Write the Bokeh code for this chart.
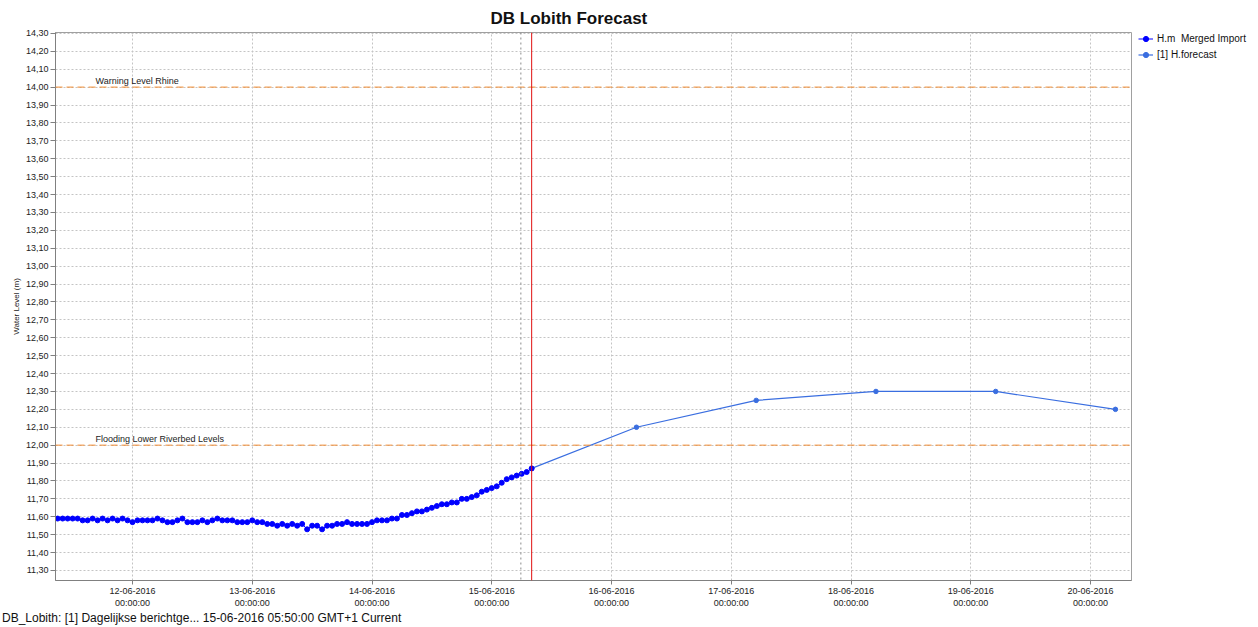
from datetime import datetime, timedelta
from bokeh.plotting import figure
from bokeh.layouts import column, row
from bokeh.models import (ColumnDataSource, Span, Label, Legend, LegendItem, FixedTicker, Div,
                          DaysTicker, DatetimeTickFormatter, CustomJSTickFormatter, Range1d)
from bokeh.embed import file_html
from bokeh.resources import INLINE

# ---------------- data ----------------
title_text = "DB Lobith Forecast"
status_text = "DB_Lobith: [1] Dagelijkse berichtge... 15-06-2016 05:50:00 GMT+1 Current"
series_obs_name = "H.m  Merged Import"
series_fc_name = "[1] H.forecast"
y_axis_title = "Water Level (m)"

obs_start = datetime(2016, 6, 11, 8, 0)
obs_levels = [
    # 11-06 08:00 .. 23:00
    11.60, 11.59, 11.59, 11.59, 11.59, 11.59, 11.58, 11.58, 11.59, 11.58, 11.59, 11.58,
    11.59, 11.58, 11.59, 11.58,
    # 12-06 00:00 .. 23:00
    11.57, 11.58, 11.58, 11.58, 11.58, 11.59, 11.58, 11.57, 11.57, 11.58, 11.59, 11.57,
    11.57, 11.57, 11.58, 11.57, 11.58, 11.59, 11.58, 11.58, 11.58, 11.57, 11.57, 11.57,
    # 13-06 00:00 .. 23:00
    11.58, 11.57, 11.57, 11.56, 11.56, 11.55, 11.56, 11.55, 11.56, 11.55, 11.56, 11.53,
    11.55, 11.55, 11.53, 11.55, 11.55, 11.56, 11.56, 11.57, 11.56, 11.56, 11.56, 11.56,
    # 14-06 00:00 .. 23:00
    11.57, 11.58, 11.58, 11.58, 11.59, 11.59, 11.61, 11.61, 11.62, 11.63, 11.63, 11.64,
    11.65, 11.66, 11.67, 11.67, 11.68, 11.68, 11.70, 11.70, 11.71, 11.72, 11.74, 11.75,
    # 15-06 00:00 .. 08:00
    11.76, 11.77, 11.79, 11.81, 11.82, 11.83, 11.84, 11.85, 11.87,
]
obs_times = [obs_start + timedelta(hours=i) for i in range(len(obs_levels))]

fc_times = [datetime(2016, 6, 15, 8, 0), datetime(2016, 6, 16, 5, 0), datetime(2016, 6, 17, 5, 0),
            datetime(2016, 6, 18, 5, 0), datetime(2016, 6, 19, 5, 0), datetime(2016, 6, 20, 5, 0)]
fc_levels = [11.87, 12.10, 12.25, 12.30, 12.30, 12.20]

thresholds = [14.00, 12.00]
threshold_names = ["Warning Level Rhine", "Flooding Lower Riverbed Levels"]

forecast_time = datetime(2016, 6, 15, 5, 50)
current_time = datetime(2016, 6, 15, 8, 0)

y_ticks = [11.3, 11.4, 11.5, 11.6, 11.7, 11.8, 11.9, 12.0, 12.1, 12.2, 12.3, 12.4, 12.5, 12.6,
           12.7, 12.8, 12.9, 13.0, 13.1, 13.2, 13.3, 13.4, 13.5, 13.6, 13.7, 13.8, 13.9, 14.0,
           14.1, 14.2, 14.3]

x_start = datetime(2016, 6, 11, 8, 34)
x_end = datetime(2016, 6, 20, 8, 13)
y_start, y_end = 11.244, 14.305

# ---------------- figure ----------------
FONT = "Liberation Sans"
W_MAIN, W_LEG, H = 1136, 120, 610
ML, MR, MT, MB = 55, 5, 32, 27

OBS_COLOR = "#0000ff"
FC_COLOR = "#3a6ee0"

p = figure(width=W_MAIN, height=H, x_axis_type="datetime", output_backend="svg",
           toolbar_location=None, tools="",
           x_range=Range1d(x_start, x_end), y_range=Range1d(y_start, y_end),
           min_border_left=ML, min_border_right=MR, min_border_top=MT, min_border_bottom=MB)
p.background_fill_color = "white"
p.border_fill_color = "white"
p.outline_line_color = "#a0a0a0"

p.title.text = title_text
p.title.text_font = FONT
p.title.text_font_size = "17px"
p.title.text_font_style = "bold"
p.title.text_color = "#111111"
p.title.align = "left"
p.title.offset = 435
p.title.standoff = 9

# axes
p.yaxis.ticker = FixedTicker(ticks=y_ticks)
p.yaxis.formatter = CustomJSTickFormatter(code="return tick.toFixed(2).replace('.', ',');")
p.xaxis.ticker = DaysTicker(days=list(range(1, 32)))
fmt = "%d-%m-%Y\n%H:%M:%S"
p.xaxis.formatter = DatetimeTickFormatter(milliseconds=fmt, seconds=fmt, minsec=fmt, minutes=fmt,
                                          hourmin=fmt, hours=fmt, days=fmt, months=fmt, years=fmt)
for ax in (p.xaxis[0], p.yaxis[0]):
    ax.axis_line_color = "#808080"
    ax.major_tick_line_color = "#808080"
    ax.minor_tick_line_color = None
    ax.major_tick_in = 0
    ax.major_tick_out = 5
    ax.major_label_text_font = FONT
    ax.major_label_text_font_size = "9px"
    ax.major_label_text_color = "#222222"
    ax.major_label_standoff = 2
p.xaxis.major_tick_out = 4
p.xaxis.major_label_standoff = 1
p.yaxis.axis_label = y_axis_title
p.yaxis.axis_label_text_font = FONT
p.yaxis.axis_label_text_font_size = "8px"
p.yaxis.axis_label_text_font_style = "normal"
p.yaxis.axis_label_text_color = "#222222"
p.yaxis.axis_label_standoff = 2

for g in (p.xgrid[0], p.ygrid[0]):
    g.grid_line_color = "#c4c4c4"
    g.grid_line_dash = "2 2"
    g.grid_line_width = 1
p.ygrid.ticker = FixedTicker(ticks=y_ticks)

# thresholds
for lvl, name in zip(thresholds, threshold_names):
    p.add_layout(Span(location=lvl, dimension="width", line_color="#f08a30",
                      line_dash="7 4", line_width=1))
    p.add_layout(Label(x=40, x_units="screen", y=lvl, y_units="data", y_offset=1,
                       text=name, text_font=FONT, text_font_size="9px",
                       text_color="#222222", text_baseline="bottom"))

# vertical markers
p.add_layout(Span(location=forecast_time, dimension="height", line_color="#8a8a8a",
                  line_dash="2 3", line_width=1))
p.add_layout(Span(location=current_time, dimension="height", line_color="#e01010",
                  line_width=1))

# series
obs_src = ColumnDataSource(dict(t=obs_times, v=obs_levels))
fc_src = ColumnDataSource(dict(t=fc_times, v=fc_levels))
p.line("t", "v", source=fc_src, line_color=FC_COLOR, line_width=1.2)
p.scatter("t", "v", source=fc_src, marker="circle", size=4.5, fill_color=FC_COLOR,
          line_color=FC_COLOR)
p.line("t", "v", source=obs_src, line_color=OBS_COLOR, line_width=1)
p.scatter("t", "v", source=obs_src, marker="circle", size=5, fill_color=OBS_COLOR,
          line_color=OBS_COLOR)

# ---------------- legend panel (separate figure to the right) ----------------
# The same series are attached here, but this panel's ranges keep them out of view;
# they only serve as legend glyph sources.
q = figure(width=W_LEG, height=H, output_backend="svg", toolbar_location=None, tools="",
           x_range=Range1d(0, 1), y_range=Range1d(0, 1),
           x_axis_location=None, y_axis_location=None,
           min_border_left=2, min_border_right=0, min_border_top=MT, min_border_bottom=MB)
q.grid.visible = False
q.outline_line_color = None
q.background_fill_color = "white"
q.border_fill_color = "white"
ql1 = q.line("t", "v", source=obs_src, line_color=OBS_COLOR, line_width=1)
qs1 = q.scatter("t", "v", source=obs_src, marker="circle", size=5,
                fill_color=OBS_COLOR, line_color=OBS_COLOR)
ql2 = q.line("t", "v", source=fc_src, line_color=FC_COLOR, line_width=1.2)
qs2 = q.scatter("t", "v", source=fc_src, marker="circle", size=4.5,
                fill_color=FC_COLOR, line_color=FC_COLOR)
legend = Legend(items=[LegendItem(label=series_obs_name, renderers=[ql1, qs1]),
                       LegendItem(label=series_fc_name, renderers=[ql2, qs2])],
                location="top_left", padding=4, margin=0, spacing=3,
                glyph_width=15, glyph_height=13, label_height=13, label_standoff=4,
                label_text_font=FONT, label_text_font_size="10px", label_text_color="#111111",
                border_line_color=None, background_fill_alpha=0)
q.add_layout(legend)

# status line under the chart
status = Div(text=status_text, width=W_MAIN + W_LEG, height=16, margin=0,
             styles={"font-family": FONT, "font-size": "12px", "color": "#111111",
                     "padding-left": "2px", "line-height": "16px", "white-space": "nowrap"})

layout = column(row(p, q, margin=0, spacing=0), status, margin=0, spacing=0)
open("out.html", "w").write(file_html(layout, INLINE))
